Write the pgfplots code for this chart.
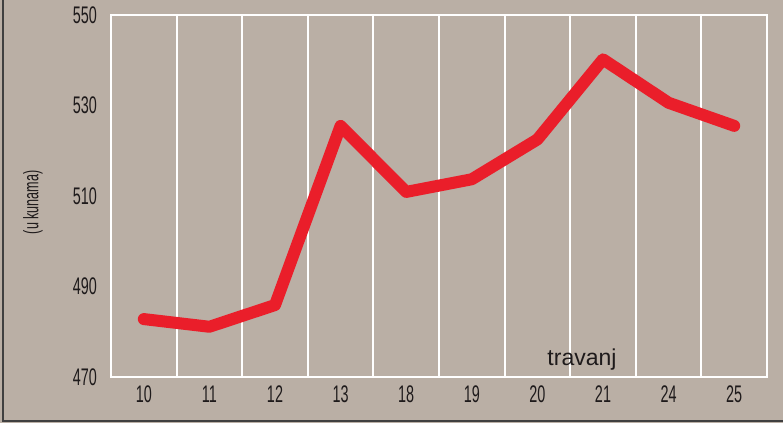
\documentclass[border=0pt]{standalone}
\usepackage{fontspec}
\setmainfont{Liberation Sans}
\newfontfamily\condfont{Liberation Sans}[FakeStretch=0.6]
\newfontfamily\condlab{Liberation Sans}[FakeStretch=0.6]
\usepackage{pgfplots}
\pgfplotsset{compat=1.18}
\definecolor{bg}{RGB}{186,175,165}
\definecolor{linered}{RGB}{234,30,42}
\definecolor{txt}{RGB}{30,26,27}
\begin{document}
\begin{tikzpicture}
\fill[bg] (0,0) rectangle (391.5pt,211.5pt);
\useasboundingbox (0,0) rectangle (391.5pt,211.5pt);
\draw[black!75, line width=1pt] (1.5pt,211.5pt) -- (1.5pt,1pt) -- (391.5pt,1pt);
\begin{axis}[
  at={(55.5pt,23pt)}, anchor=south west,
  scale only axis, width=328pt, height=181pt,
  xmin=-0.5, xmax=9.5, ymin=470, ymax=550,
  xtick={0,...,9},
  xticklabels={10,11,12,13,18,19,20,21,24,25},
  minor xtick={0.5,1.5,...,8.5},
  ytick={470,490,510,530,550},
  major tick length=0pt, minor tick length=0pt,
  xmajorgrids=false, xminorgrids=true,
  minor grid style={white, line width=1pt},
  axis line style={white, line width=1.1pt},
  tick label style={font=\condfont\fontsize{12}{13}\selectfont, text=txt},
  /pgf/number format/assume math mode=true,
  yticklabel style={xshift=-3.5pt},
  xticklabel style={yshift=-1pt},
  ylabel={(u kunama)},
  ylabel style={at={(axis description cs:-0.119,0.483)}, anchor=center, font=\condlab\fontsize{10.5}{11}\selectfont, text=txt},
]
\addplot[linered, line width=6pt, line join=round, line cap=round] coordinates {
  (0,482.8) (1,481.1) (2,485.9) (3,525.5) (4,510.9)
  (5,513.7) (6,522.5) (7,540.2) (8,530.6) (9,525.5)
};
\node[font=\fontsize{11.5}{12}\selectfont, text=txt, anchor=center] at (axis description cs:0.718,0.047) {travanj};
\end{axis}
\end{tikzpicture}
\end{document}
